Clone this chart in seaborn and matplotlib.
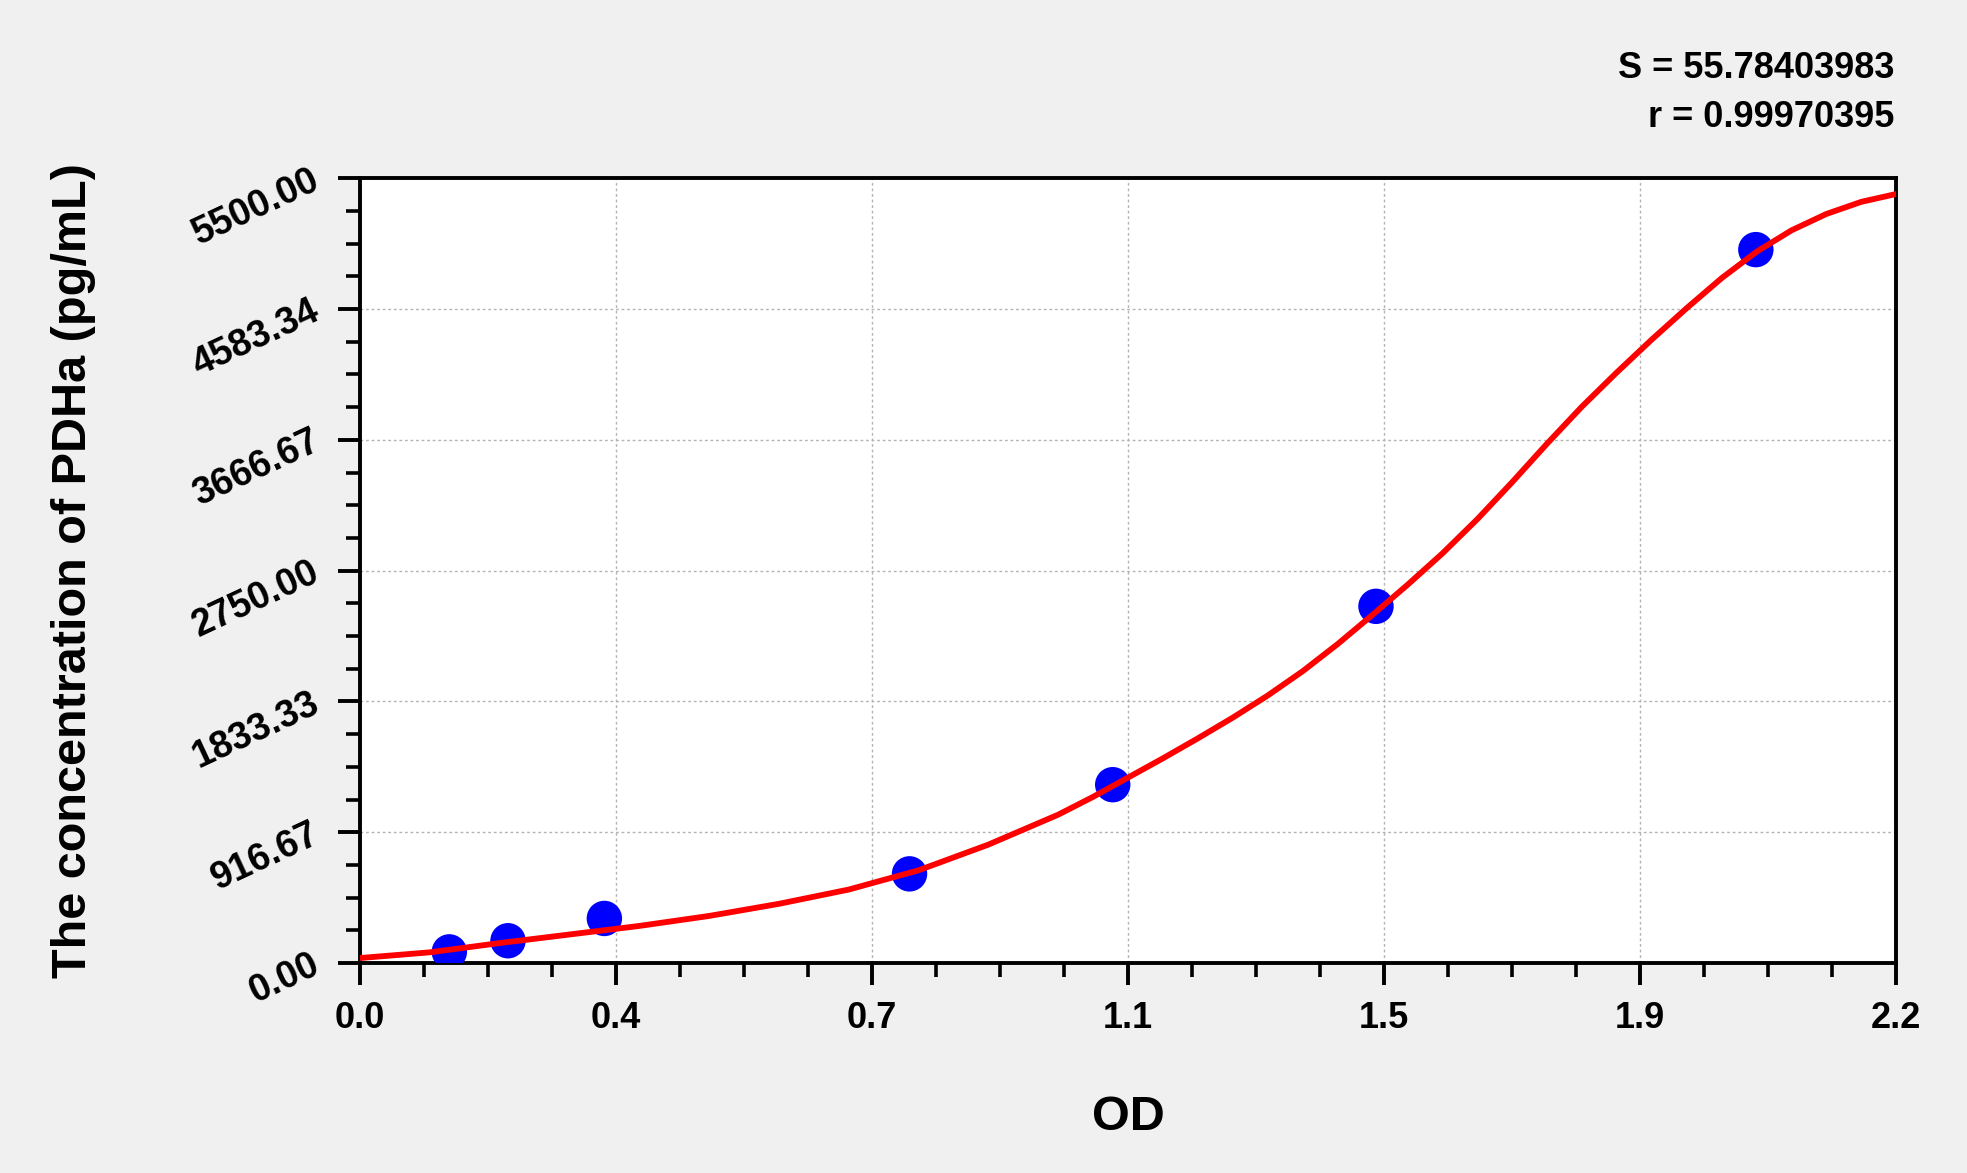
import numpy as np
import pandas as pd
import seaborn as sns
import matplotlib
matplotlib.use("Agg")
import matplotlib.pyplot as plt
from matplotlib.ticker import AutoMinorLocator

sns.set_theme(style="white")
plt.rcParams['font.family'] = ['Liberation Sans', 'DejaVu Sans']
plt.rcParams['text.color'] = 'black'
plt.rcParams['axes.labelcolor'] = 'black'
plt.rcParams['xtick.color'] = 'black'
plt.rcParams['ytick.color'] = 'black'

# standards (OD vs concentration)
od = [0.128, 0.212, 0.350, 0.787, 1.078, 1.455, 1.999]
conc = [78.125, 156.25, 312.5, 625, 1250, 2500, 5000]

# fitted curve
curve_od = [0.0, 0.1, 0.2, 0.3, 0.4, 0.5, 0.6, 0.7, 0.8, 0.9, 1.0, 1.05,
            1.1, 1.15, 1.2, 1.25, 1.3, 1.35, 1.4, 1.45, 1.5, 1.55, 1.6,
            1.65, 1.7, 1.75, 1.8, 1.85, 1.9, 1.95, 2.0, 2.05, 2.1, 2.15, 2.2]
curve_conc = [35, 75, 140, 200, 260, 330, 415, 515, 650, 830, 1040, 1165,
              1300, 1435, 1575, 1720, 1875, 2045, 2235, 2440, 2650, 2870, 3110,
              3370, 3640, 3900, 4140, 4370, 4590, 4800, 4985, 5135, 5250, 5335, 5390]

x_ticks = [0.0, 2.2 / 6, 2.2 * 2 / 6, 1.1, 2.2 * 4 / 6, 2.2 * 5 / 6, 2.2]
x_labels = ["0.0", "0.4", "0.7", "1.1", "1.5", "1.9", "2.2"]
y_ticks = [0, 5500 / 6, 5500 * 2 / 6, 2750, 5500 * 4 / 6, 5500 * 5 / 6, 5500]
y_labels = ["0.00", "916.67", "1833.33", "2750.00", "3666.67", "4583.34", "5500.00"]

s_text = "S = 55.78403983"
r_text = "r = 0.99970395"

pts = pd.DataFrame({"OD": od, "conc": conc})
fit = pd.DataFrame({"OD": curve_od, "conc": curve_conc})

fig = plt.figure(figsize=(19.67, 11.73), dpi=100, facecolor="#f0f0f0")
ax = fig.add_axes([0.183, 0.179, 0.781, 0.669])
ax.set_facecolor("white")

sns.scatterplot(data=pts, x="OD", y="conc", ax=ax, color="#0000ff", s=650,
                edgecolor="none", zorder=3)
sns.lineplot(data=fit, x="OD", y="conc", ax=ax, color="#ff0000", lw=4.2,
             zorder=4)

ax.set_xlim(0, 2.2)
ax.set_ylim(0, 5500)
ax.set_xticks(x_ticks)
ax.set_xticklabels(x_labels, fontsize=26, fontweight="bold")
ax.set_yticks(y_ticks)
ax.set_yticklabels(y_labels, fontsize=27, fontweight="bold", rotation=25,
                   ha="right", va="center", rotation_mode="anchor")
ax.xaxis.set_minor_locator(AutoMinorLocator(4))
ax.yaxis.set_minor_locator(AutoMinorLocator(4))
ax.tick_params(axis="both", which="both", bottom=True, left=True,
               direction="out", color="black")
ax.tick_params(axis="both", which="major", length=15.5, width=2.8)
ax.tick_params(axis="both", which="minor", length=10, width=2.6)
ax.tick_params(axis="x", which="major", pad=12)
ax.tick_params(axis="y", which="major", pad=15)

ax.grid(True, which="major", linestyle=(0, (2, 2)), color="#b4b4b4", lw=1.0)
for sp in ax.spines.values():
    sp.set_visible(True)
    sp.set_color("black")
    sp.set_linewidth(2.8)

ax.set_xlabel("OD", fontsize=35, fontweight="bold")
ax.set_ylabel("The concentration of PDHa (pg/mL)", fontsize=35,
              fontweight="bold")
ax.yaxis.set_label_coords(-0.172, 0.5)
ax.xaxis.set_label_coords(0.5, -0.168)

fig.text(0.963, 0.942, s_text, ha="right", va="center", fontsize=26,
         fontweight="bold")
fig.text(0.963, 0.900, r_text, ha="right", va="center", fontsize=26,
         fontweight="bold")

fig.savefig("out.png", dpi=100, facecolor=fig.get_facecolor())
